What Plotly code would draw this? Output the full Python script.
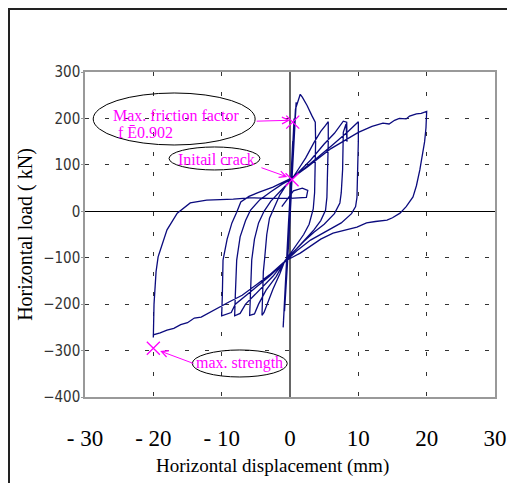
import plotly.graph_objects as go

# ---------------- data ----------------
# small initial cycles (dense band near zero) + first peak
small_disp = [0, 0.2, 0.4, 0.1, -0.3, -0.5, -0.2, 0.2, 0.5, 0.6, 0.2, -0.4, -0.7, -0.8, -0.4,
              0.2, 0.6, 0.8, 0.9, 0.5, -0.2, -0.7, -1.0, -0.9, -0.3, 0.3, 0.7, 0.9, 0.6, 0.0,
              -0.6, -0.95, -0.8, -0.2, 0.4, 0.8, 1.1, 1.5, 1.8, 2.5, 3.2, 3.7]
small_load = [0, 80, 150, 60, -50, -140, -70, 40, 170, 200, 90, -80, -190, -215, -120,
              50, 180, 225, 235, 140, -20, -170, -250, -215, -60, 90, 200, 230, 170, 20,
              -150, -235, -190, -40, 120, 220, 235, 252, 246, 228, 206, 192]

# cycle +4 / -4
c4_disp = [3.75, 3.7, 3.6, 3.4, 2.8, 2.0, 1.0, 0.0, -0.8, -1.5, -2.5, -3.3, -3.8, -4.1,
           -4.0, -3.9, -3.7, -3.4, -3.0, -2.3, -1.5, -0.6, 0.3]
c4_load = [150, 100, 40, 5, -28, -50, -72, -92, -108, -135, -168, -198, -218, -224,
           -180, -130, -100, -50, -15, 10, 35, 55, 70]

# cycle +6 / -6
c6_disp = [1.2, 2.3, 3.5, 4.5, 5.2, 5.6, 5.6, 5.55, 5.4, 5.2, 4.5, 3.5, 2.3, 1.0, 0.0, -0.8,
           -2.0, -3.5, -4.6, -5.2, -5.9, -5.8, -5.6, -5.2, -4.6, -3.8, -2.8, -1.5, -0.5, 0.3]
c6_load = [90, 115, 148, 172, 185, 193, 150, 90, 30, 2, -20, -40, -60, -80, -95, -108,
           -140, -170, -200, -221, -224, -170, -105, -60, -25, 0, 22, 42, 58, 70]

# cycle +8 / -8
c8_disp = [1.5, 3.0, 5.0, 6.5, 7.4, 7.8, 8.3, 8.35, 8.2, 7.8, 7.7, 7.5, 7.3, 6.5, 5.0, 3.5,
           2.0, 0.5, -0.5, -2.5, -4.5, -6.5, -7.3, -7.7, -8.1, -8.0, -7.8, -7.3, -6.5, -5.8,
           -4.4, -2.8, -1.2, 0.3]
c8_load = [88, 110, 145, 168, 185, 194, 192, 150, 188, 170, 90, 40, 18, -5, -28, -45,
           -65, -88, -103, -140, -170, -200, -220, -223, -225, -180, -105, -55, -20, 2,
           25, 42, 58, 70]

# cycle +10 / -10
c10_disp = [1.8, 3.5, 6.0, 8.5, 9.6, 10.0, 10.0, 9.95, 9.8, 9.6, 9.0, 7.5, 5.0, 3.0, 1.0,
            -0.5, -3.0, -5.5, -8.0, -8.6, -9.3, -10.0, -9.9, -9.8, -9.2, -8.5, -7.8, -7.2,
            -6.0, -4.4, -2.5, -1.0, 0.3]
c10_load = [88, 108, 140, 172, 188, 193, 150, 90, 30, 10, -5, -25, -45, -62, -85,
            -105, -140, -170, -200, -218, -222, -225, -180, -105, -60, -25, -2, 20,
            32, 42, 52, 62, 72]

# cycle +20 / -20
c20_disp = [2.5, 6.0, 10.0, 12.0, 13.6, 14.5, 15.3, 16.0, 17.0, 17.5, 18.5, 19.2, 20.0,
            20.0, 19.9, 19.7, 19.3, 19.0, 18.5, 18.0, 17.0, 16.1, 15.0, 14.2, 12.5, 11.2,
            9.8, 8.0, 6.3, 4.5, 2.9, 1.5, -0.4, -1.0,
            -3.0, -5.0, -7.0, -9.0, -11.0, -13.0, -14.0, -15.0, -16.0, -17.0, -18.0,
            -19.0, -20.0, -20.0, -19.9, -19.6, -19.3, -18.0, -16.5, -14.6, -12.2, -8.3,
            -5.9, -3.0, 0.0, 2.4, 2.6, 1.8, 0.5, -0.6, -1.2]
c20_load = [95, 135, 170, 183, 190, 188, 196, 200, 199, 205, 210, 211, 215,
            214, 180, 150, 110, 89, 55, 31, 10, -4, -14, -19, -22, -25,
            -34, -40, -47, -60, -77, -90, -105, -111,
            -137, -160, -181, -196, -212, -228, -230, -240, -244, -252, -256,
            -262, -266, -272, -200, -130, -98, -40, -4, 18, 24, 26,
            29, 28, 28, 30, 45, 50, 44, 22, 10]

# annotation markers (×)
mark_disp = [0.4, 0.3, -20.0]
mark_load = [192, 68, -295]

x_ticks = [-30, -20, -10, 0, 10, 20, 30]
x_ticktext = ["- 30", "- 20", "- 10", "0", "10", "20", "30"]
y_ticks = [-400, -300, -200, -100, 0, 100, 200, 300]

disp = small_disp + c4_disp + c6_disp + c8_disp + c10_disp + c20_disp
load = small_load + c4_load + c6_load + c8_load + c10_load + c20_load

MAG = "#FF00FF"
SERIF = "Liberation Serif"

fig = go.Figure()
fig.add_trace(go.Scatter(x=disp, y=load, mode="lines",
                         line=dict(color="#0b0b7e", width=1.3), showlegend=False,
                         hoverinfo="skip"))
fig.add_trace(go.Scatter(x=mark_disp, y=mark_load, mode="markers",
                         marker=dict(symbol="x-thin", size=13,
                                     line=dict(color=MAG, width=1.3)),
                         showlegend=False, hoverinfo="skip"))

# ellipses (data coordinates)
ellipses = [(-28.8, 142.8, -5.1, 254.8), (-17.7, 89.0, -4.4, 138.5), (-14.3, -356.9, -0.4, -298.7)]
shapes = []
for x0, y0, x1, y1 in ellipses:
    shapes.append(dict(type="circle", xref="x", yref="y", x0=x0, y0=y0, x1=x1, y1=y1,
                       line=dict(color="black", width=1)))
# outer frame
shapes.append(dict(type="rect", xref="paper", yref="paper", x0=-76 / 410, y0=-0.35,
                   x1=1.2, y1=1 + 63 / 325, line=dict(color="#222", width=2), layer="below"))

annotations = [
    dict(x=-16.7, y=207, text="Max. friction factor", showarrow=False,
         font=dict(family=SERIF, size=16, color=MAG)),
    dict(x=-21.2, y=170, text="f Ē0.902", showarrow=False,
         font=dict(family=SERIF, size=16, color=MAG)),
    dict(x=-10.8, y=112, text="Initail crack", showarrow=False,
         font=dict(family=SERIF, size=16, color=MAG)),
    dict(x=-7.4, y=-327, text="max. strength", showarrow=False,
         font=dict(family=SERIF, size=16, color=MAG)),
    dict(x=0, y=196, ax=-5.1, ay=194, axref="x", ayref="y", showarrow=True,
         arrowhead=5, arrowsize=1.3, arrowwidth=1, arrowcolor=MAG, text=""),
    dict(x=-0.4, y=74, ax=-4.4, ay=95, axref="x", ayref="y", showarrow=True,
         arrowhead=5, arrowsize=1.3, arrowwidth=1, arrowcolor=MAG, text=""),
    dict(x=-19.0, y=-301, ax=-13.9, ay=-329, axref="x", ayref="y", showarrow=True,
         arrowhead=5, arrowsize=1.3, arrowwidth=1, arrowcolor=MAG, text=""),
    # x-axis title (sits left of the plot centre in the reference)
    dict(xref="paper", yref="paper", x=187 / 410, y=-69 / 325, xanchor="center",
         yanchor="middle", showarrow=False, text="Horizontal displacement (mm)",
         font=dict(family=SERIF, size=19, color="black")),
]

grid = dict(showgrid=True, gridcolor="#333", gridwidth=1, griddash="4px,16px")

fig.update_layout(
    width=507, height=475,
    margin=dict(l=77, r=20, t=64, b=86),
    paper_bgcolor="white", plot_bgcolor="white",
    shapes=shapes, annotations=annotations,
    xaxis=dict(range=[-30, 30], tickvals=x_ticks, ticktext=x_ticktext,
               tickfont=dict(family=SERIF, size=23, color="black"),
               ticks="", ticklabelstandoff=20,
               showline=True, linecolor="#999", linewidth=1.5, mirror=True,
               zeroline=True, zerolinecolor="#666", zerolinewidth=1.5,
               automargin=False,
               **grid),
    yaxis=dict(range=[-400, 300], tickvals=y_ticks,
               tickfont=dict(family="DejaVu Sans Condensed", size=15, color="#333"),
               ticks="outside", ticklen=2, tickcolor="#999", ticklabelstandoff=-2,
               showline=True, linecolor="#999", linewidth=1.5, mirror=True,
               zeroline=True, zerolinecolor="black", zerolinewidth=1.2,
               title=dict(text="Horizontal load ( kN)",
                          font=dict(family=SERIF, size=20, color="black"), standoff=5),
               automargin=False,
               **grid),
)

fig.write_html("out.html")
